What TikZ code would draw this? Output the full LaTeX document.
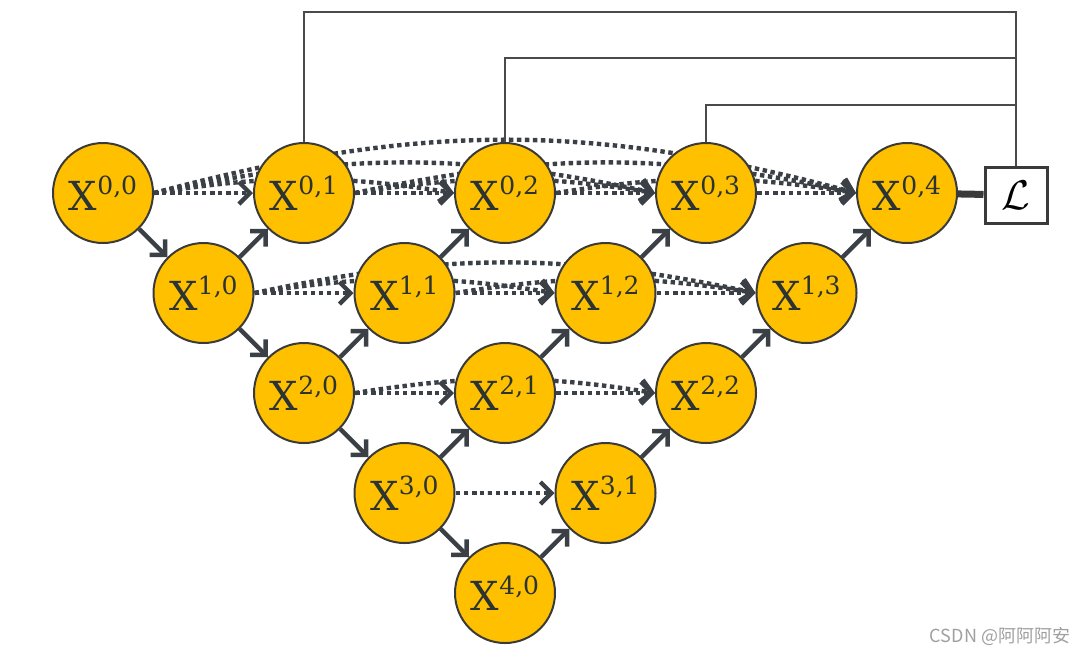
\documentclass[tikz,border=0pt]{standalone}
\usepackage{fontspec}
\setmainfont{DejaVu Serif}
\newfontfamily\cjk{Noto Sans CJK SC}
\usetikzlibrary{arrows.meta,backgrounds}

\definecolor{unitfill}{HTML}{FFC000}
\definecolor{unitdraw}{HTML}{3A3A3A}
\definecolor{unittext}{HTML}{2B3333}
\definecolor{linkgray}{HTML}{3B4047}
\definecolor{wiregray}{HTML}{4A4A4A}

\newcommand{\unitlabel}[2]{X\raisebox{8pt}{\fontsize{12.5}{12.5}\selectfont #1,#2}}

\tikzset{
    unit/.style={circle,draw=unitdraw,line width=1pt,fill=unitfill,minimum size=50pt,inner sep=0pt,
        text=unittext,font=\fontsize{20}{20}\selectfont},
    pool/.style={draw=linkgray,line width=2.2pt,-{Straight Barb[length=5.5pt,width=11pt]}},
    skip/.style={draw=linkgray,line width=2.2pt,dash pattern=on 2.2pt off 1.8pt,
        -{Straight Barb[length=5.5pt,width=11pt]}},
    lossbox/.style={draw=unitdraw,line width=1.5pt,fill=white,minimum width=31pt,minimum height=28pt,
        inner sep=0pt,font=\fontsize{22}{22}\selectfont},
    lossline/.style={draw=unitdraw,line width=3.5pt},
    wire/.style={draw=wiregray,line width=0.75pt},
    credit/.style={text=gray!75,font=\cjk\fontsize{9}{9}\selectfont}
}

\begin{document}
\begin{tikzpicture}[x=0.5pt,y=-0.5pt]
    \useasboundingbox (0,0) rectangle (1090,654);

    \foreach \i in {0,...,4} {
        \pgfmathtruncatemacro\last{4-\i}
        \foreach \j in {0,...,\last} {
            \node[unit] (x\i\j) at ({103+100.5*(\i+2*\j)},{193+100*\i}) {\unitlabel{\i}{\j}};
        }
    }
    \node[lossbox] (loss) at (1016,195) {$\mathcal{L}$};
    \node[credit] (csdn) at (1000,636) {CSDN @阿阿阿安};

    \coordinate (bus1) at (0,12);
    \coordinate (bus2) at (0,58);
    \coordinate (bus3) at (0,105);

    \begin{scope}[on background layer]
        \foreach \i in {0,...,3} {
            \pgfmathtruncatemacro\last{4-\i}
            \pgfmathtruncatemacro\jend{\last-1}
            \foreach \j in {0,...,\jend} {
                \pgfmathtruncatemacro\kfirst{\j+1}
                \foreach \k in {\kfirst,...,\last} {
                    \pgfmathtruncatemacro\bend{ifthenelse(\k-\j==1,0,3*(\k-\j)+3)}
                    \draw[skip] (x\i\j.east) to[bend left=\bend] (x\i\k.west);
                }
            }
        }
    \end{scope}

    \foreach \i in {0,...,3} {
        \pgfmathtruncatemacro\n{\i+1}
        \draw[pool] (x\i0) -- (x\n0);
    }
    \foreach \i in {1,...,4} {
        \pgfmathtruncatemacro\last{4-\i}
        \pgfmathtruncatemacro\m{\i-1}
        \foreach \j in {0,...,\last} {
            \pgfmathtruncatemacro\n{\j+1}
            \draw[pool] (x\i\j) -- (x\m\n);
        }
    }

    \draw[lossline] (x04) -- (loss);
    \draw[wire] (x01.north) |- (loss.north |- bus1) -- (loss.north);
    \draw[wire] (x02.north) |- (loss.north |- bus2);
    \draw[wire] (x03.north) |- (loss.north |- bus3);
\end{tikzpicture}
\end{document}
